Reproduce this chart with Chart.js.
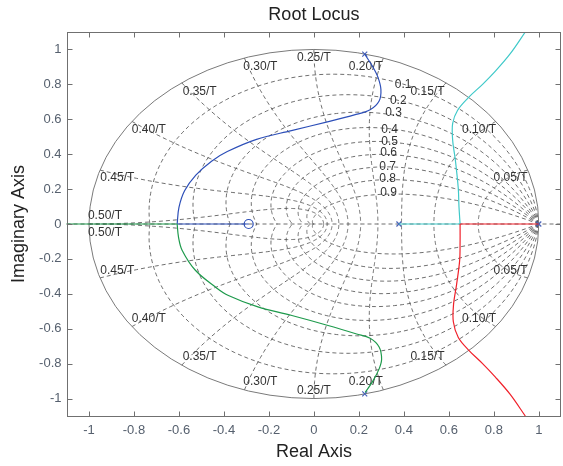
<!DOCTYPE html>
<html><head><meta charset="utf-8">
<script src="https://cdn.jsdelivr.net/npm/chart.js@4/dist/chart.umd.min.js"></script>
<style>html,body{margin:0;padding:0;background:#fff;overflow:hidden}
#wrap{position:absolute;left:0;top:0;width:567px;height:466px}</style>
</head><body><div id="wrap"><canvas id="c" width="567" height="466"></canvas></div>
<script>
// ---- tick values / labels ----
const xTickValues = [-1,-0.8,-0.6,-0.4,-0.2,0,0.2,0.4,0.6,0.8,1];
const xTickLabels = ['-1','-0.8','-0.6','-0.4','-0.2','0','0.2','0.4','0.6','0.8','1'];
const yTickValues = [-1,-0.8,-0.6,-0.4,-0.2,0,0.2,0.4,0.6,0.8,1];
const yTickLabels = ['-1','-0.8','-0.6','-0.4','-0.2','0','0.2','0.4','0.6','0.8','1'];

// ---- root locus branches ----
const blueRe = [0.226,0.262,0.285,0.298,0.290,0.250,0.180,0.060,-0.100,-0.255,-0.385,-0.455,-0.525,-0.575,-0.600,-0.608];
const blueIm = [0.973,0.900,0.840,0.770,0.705,0.655,0.625,0.585,0.535,0.485,0.415,0.360,0.280,0.190,0.095,0];
const blueAxisRe = [-0.608,-0.29];
const blueAxisIm = [0,0];
const greenRe = [0.228,0.262,0.290,0.301,0.290,0.250,0.190,0.059,-0.102,-0.249,-0.380,-0.439,-0.527,-0.586,-0.602,-0.608];
const greenIm = [-0.965,-0.900,-0.830,-0.775,-0.705,-0.655,-0.630,-0.580,-0.523,-0.475,-0.410,-0.360,-0.265,-0.150,-0.075,0];
const greenAxisRe = [-0.608,-1.2];
const greenAxisIm = [0,0];
const cyanRe = [0.650,0.645,0.642,0.629,0.617,0.617,0.639,0.690,0.750,0.808,0.874,0.940];
const cyanIm = [0,0.100,0.203,0.366,0.480,0.576,0.652,0.728,0.800,0.877,0.977,1.100];
const cyanAxisRe = [0.378,0.650];
const cyanAxisIm = [0,0];
const redRe = [0.650,0.650,0.648,0.634,0.621,0.620,0.642,0.690,0.750,0.806,0.872,0.940];
const redIm = [0,-0.100,-0.210,-0.350,-0.460,-0.560,-0.650,-0.725,-0.800,-0.876,-0.975,-1.100];
const redAxisRe = [1.0,0.650];
const redAxisIm = [0,0];
const poleRe = [0.226,0.226,0.378,1.0];
const poleIm = [0.973,-0.973,0,0];
const zeroRe = [-0.29];
const zeroIm = [0];

// ---- z-grid parameters and label text ----
const dampingRatios = [0.1,0.2,0.3,0.4,0.5,0.6,0.7,0.8,0.9];
const naturalFreqs = [0.05,0.10,0.15,0.20,0.25,0.30,0.35,0.40,0.45,0.50]; // x 1/T
const freqLabels = ['0.05/T','0.10/T','0.15/T','0.20/T','0.25/T','0.30/T','0.35/T','0.40/T','0.45/T','0.50/T'];
const freqLabelRe = [0.874,0.734,0.505,0.231,0.0,-0.238,-0.508,-0.734,-0.874,-0.929];
const freqLabelIm = [0.266,0.543,0.758,0.904,0.954,0.904,0.758,0.543,0.266,0.050];
const dampLabels = ['0.1','0.2','0.3','0.4','0.5','0.6','0.7','0.8','0.9'];
const dampLabelRe = [0.397,0.375,0.354,0.337,0.337,0.332,0.328,0.328,0.332];
const dampLabelIm = [0.801,0.705,0.635,0.543,0.470,0.406,0.326,0.262,0.177];

const FONT = '"Liberation Sans", Arial, Helvetica, sans-serif';
const pts = (re,im)=>re.map((v,i)=>({x:v,y:im[i]}));

const zgrid = {
  id:'zgrid',
  beforeDatasetsDraw(chart){
    const {ctx, chartArea:a, scales:{x,y}} = chart;
    const px=v=>x.getPixelForValue(v), py=v=>y.getPixelForValue(v);
    ctx.save();
    ctx.beginPath(); ctx.rect(a.left,a.top,a.right-a.left,a.bottom-a.top); ctx.clip();
    ctx.lineWidth=0.8; ctx.strokeStyle='#4a4a4a'; ctx.setLineDash([4,3]);
    const N=120;
    dampingRatios.forEach(z=>{
      const m=z/Math.sqrt(1-z*z);
      [1,-1].forEach(sg=>{
        ctx.beginPath();
        for(let i=0;i<=N;i++){const th=Math.PI*i/N;const r=Math.exp(-m*th);
          const X=px(r*Math.cos(th)),Y=py(sg*r*Math.sin(th)); i?ctx.lineTo(X,Y):ctx.moveTo(X,Y);}
        ctx.stroke();
      });
    });
    naturalFreqs.forEach(f=>{
      const w=2*Math.PI*f;
      [1,-1].forEach(sg=>{
        ctx.beginPath();
        for(let i=0;i<=N;i++){const ph=Math.PI/2+Math.PI/2*i/N;const r=Math.exp(w*Math.cos(ph));const ang=w*Math.sin(ph);
          const X=px(r*Math.cos(ang)),Y=py(sg*r*Math.sin(ang)); i?ctx.lineTo(X,Y):ctx.moveTo(X,Y);}
        ctx.stroke();
      });
    });
    ctx.beginPath(); ctx.moveTo(a.left,py(0)); ctx.lineTo(a.right,py(0)); ctx.stroke();
    ctx.setLineDash([]); ctx.strokeStyle='#7a7a7a'; ctx.lineWidth=1;
    ctx.beginPath(); ctx.ellipse(px(0),py(0),px(1)-px(0),py(0)-py(1),0,0,2*Math.PI); ctx.stroke();
    ctx.fillStyle='#333'; ctx.font='12px '+FONT; ctx.textAlign='center'; ctx.textBaseline='middle';
    freqLabels.forEach((t,i)=>{
      ctx.fillText(t,px(freqLabelRe[i]),py(freqLabelIm[i]));
      ctx.fillText(t,px(freqLabelRe[i]),py(-freqLabelIm[i]));
    });
    dampLabels.forEach((t,i)=>ctx.fillText(t,px(dampLabelRe[i]),py(dampLabelIm[i])));
    ctx.restore();
  },
  afterDraw(chart){
    const {ctx, chartArea:a, scales:{x,y}} = chart;
    ctx.save();
    ctx.strokeStyle='#707070'; ctx.lineWidth=1; ctx.setLineDash([]);
    const L=Math.round(a.left)+0.5, R=Math.round(a.right)-0.5, T=Math.round(a.top)+0.5, B=Math.round(a.bottom)+0.5;
    ctx.strokeRect(L,T,R-L,B-T);
    ctx.beginPath();
    xTickValues.forEach(v=>{const X=Math.round(x.getPixelForValue(v))+0.5; ctx.moveTo(X,B); ctx.lineTo(X,B-5); ctx.moveTo(X,T); ctx.lineTo(X,T+5);});
    yTickValues.forEach(v=>{const Y=Math.round(y.getPixelForValue(v))+0.5; ctx.moveTo(L,Y); ctx.lineTo(L+5,Y); ctx.moveTo(R,Y); ctx.lineTo(R-5,Y);});
    ctx.stroke();
    ctx.restore();
  }
};

const line=(re,im,color,tension)=>({data:pts(re,im),borderColor:color,backgroundColor:color,borderWidth:1.2,
  showLine:true,pointRadius:0,tension:tension,fill:false});
const BLUE='#2d4fb8', GREEN='#1e9a4c', CYAN='#3fc9c9', RED='#f0202a';

new Chart(document.getElementById('c'),{
  type:'scatter',
  data:{datasets:[
    line(greenRe,greenIm,GREEN,0.35), line(greenAxisRe,greenAxisIm,GREEN,0),
    line(blueRe,blueIm,BLUE,0.35), line(blueAxisRe,blueAxisIm,BLUE,0),
    line(redRe,redIm,RED,0.35), line(redAxisRe,redAxisIm,RED,0),
    line(cyanRe,cyanIm,CYAN,0.35), line(cyanAxisRe,cyanAxisIm,CYAN,0),
    {data:pts(poleRe,poleIm),pointStyle:'crossRot',pointRadius:3.5,borderColor:'#4a64b8',borderWidth:1.2,showLine:false},
    {data:pts(zeroRe,zeroIm),pointStyle:'circle',pointRadius:4.5,borderColor:BLUE,backgroundColor:'rgba(0,0,0,0)',borderWidth:1.2,showLine:false}
  ]},
  options:{
    responsive:false, animation:false, devicePixelRatio:1,
    layout:{padding:0},
    plugins:{legend:{display:false},tooltip:{enabled:false},
      title:{display:true,text:'Root Locus',fullSize:false,color:'#222',font:{size:18,family:FONT,weight:'normal'},padding:{top:4,bottom:6.4}}},
    scales:{
      x:{type:'linear',min:-1.1,max:1.1,
        afterBuildTicks:s=>{s.ticks=xTickValues.map(v=>({value:v}));},
        afterFit:s=>{s.height=50;},
        ticks:{callback:(v,i)=>xTickLabels[i],color:'#56606e',font:{size:13,family:FONT},padding:7,maxRotation:0,autoSkip:false},
        grid:{display:false,drawTicks:false},border:{display:false},
        title:{display:true,text:'Real Axis',color:'#222',font:{size:18,family:FONT},padding:{top:0,bottom:3}}},
      y:{type:'linear',min:-1.1,max:1.1,
        afterBuildTicks:s=>{s.ticks=yTickValues.map(v=>({value:v}));},
        afterFit:s=>{s.width=66.5;},
        ticks:{callback:(v,i)=>yTickLabels[i],color:'#56606e',font:{size:13,family:FONT},padding:5,autoSkip:false},
        grid:{display:false,drawTicks:false},border:{display:false},
        title:{display:true,text:'Imaginary Axis',color:'#222',font:{size:18,family:FONT},padding:{top:8,bottom:0}}}
    }
  },
  plugins:[zgrid]
});
</script></body></html>
